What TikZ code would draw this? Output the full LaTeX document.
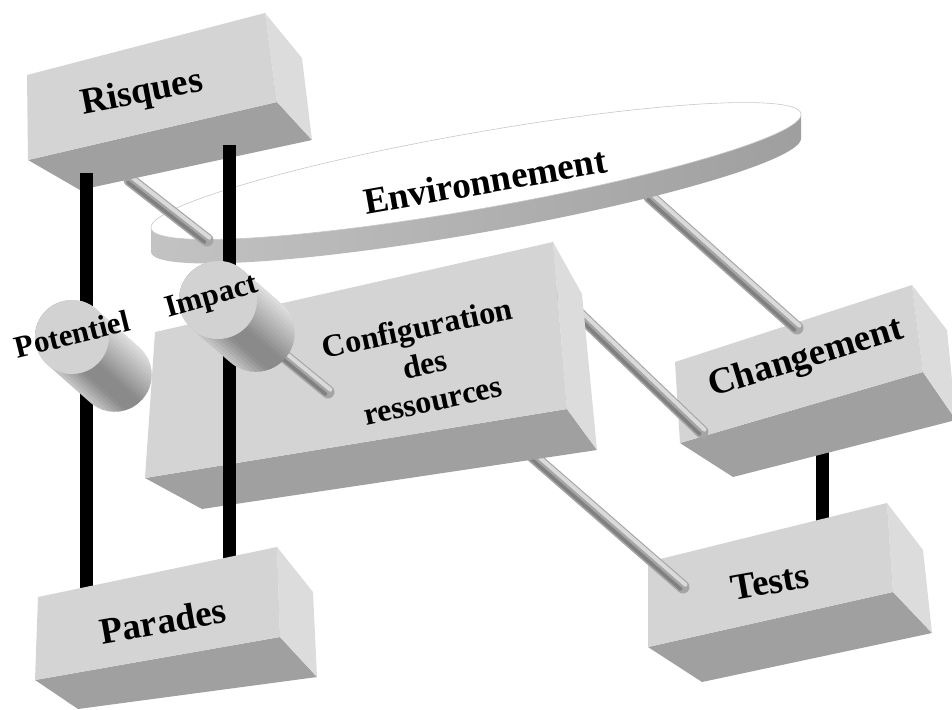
\documentclass[tikz,border=0pt]{standalone}
\usepackage{fontspec}
\setmainfont{Liberation Serif}
\usetikzlibrary{calc}

\definecolor{blockfront}{RGB}{212,212,212}
\definecolor{blockside}{RGB}{220,220,220}
\definecolor{blockbottom}{RGB}{160,160,160}
\definecolor{rodbase}{RGB}{165,165,165}
\definecolor{rodlight}{RGB}{218,218,218}
\definecolor{roddark}{RGB}{128,128,128}
\definecolor{rimlight}{RGB}{195,195,195}
\definecolor{rimdark}{RGB}{148,148,148}
\definecolor{discedge}{RGB}{200,200,200}
\definecolor{cylface}{RGB}{210,210,210}

% block seen from below: front face A B C D, back corners B' C' D'
\newcommand{\drawblock}[7]{%
  \fill[blockbottom] #4 -- #3 -- #6 -- #7 -- cycle;
  \fill[blockside] #2 -- #5 -- #6 -- #3 -- cycle;
  \fill[blockfront] #1 -- #2 -- #3 -- #4 -- cycle;}

% cylinder lying along its axis: front centre #1, axis angle #2,
% length #3, radius #4; the body is shaded in bands across the axis
\newcommand{\drawcylinder}[4]{%
  \begin{scope}[shift={#1}, rotate=#2]
    \begin{scope}
      \clip (0,-#4) -- (#3,-#4) arc[start angle=-90, end angle=90, radius=#4]
        -- (0,#4) arc[start angle=90, end angle=270, radius=#4] -- cycle;
      \foreach \i in {0,...,23} {
        \pgfmathsetmacro{\t}{(\i+0.5)/24}
        \pgfmathsetmacro{\g}{\t<0.55 ? 0.88-0.34*\t/0.55 : (\t<0.75 ? 0.54 : 0.54+0.24*(\t-0.75)/0.25)}
        \definecolor{cylband}{gray}{\g}
        \fill[cylband] (-#4-2, -#4+\i*#4/12) rectangle (#3+#4+2, -#4+\i*#4/12+#4/12+0.6);
      }
    \end{scope}
    \fill[cylface] (0,0) circle (#4);
  \end{scope}}

\begin{document}
\begin{tikzpicture}[x=1pt, y=-1pt,
  bigtext/.style={font=\bfseries\fontsize{37}{40}\selectfont, inner sep=0pt},
  smalltext/.style={font=\bfseries\fontsize{31}{37}\selectfont, inner sep=0pt},
  blackbar/.style={line width=13pt, draw=black},
  rod/.style={line width=13pt, draw=rodbase, line cap=round,
    postaction={draw=roddark, line width=3.5pt, line cap=round,
      transform canvas={shift={(-2.2,2.2)}}},
    postaction={draw=rodlight, line width=4pt, line cap=round,
      transform canvas={shift={(2.4,-2.4)}}}},
]
\useasboundingbox (0,0) rectangle (952,709);
\clip (0,0) rectangle (952,709);

% end points of bars and rods
\coordinate (bar1top) at (86,173);
\coordinate (bar1bot) at (86,592);
\coordinate (bar2top) at (229,145);
\coordinate (bar2bot) at (229,560);
\coordinate (bar3top) at (822,440);
\coordinate (bar3bot) at (822,525);
\coordinate (rodRa) at (130,180);
\coordinate (rodRb) at (207,240);
\coordinate (rodEa) at (650,197);
\coordinate (rodEb) at (797,328);
\coordinate (rodCa) at (560,296);
\coordinate (rodCb) at (702,432);
\coordinate (rodTa) at (520,445);
\coordinate (rodTb) at (683,587);
\coordinate (rodIa) at (256,333);
\coordinate (rodIb) at (328,392);

% link Changement -- Tests
\draw[blackbar] (bar3top) -- (bar3bot);

% Changement
\drawblock{(675,362)}{(912,285)}{(923,372)}{(680,443)}{(947,330)}{(956,420)}{(733,477)}
\node[bigtext, rotate=17] (changement) at (806,359) {Changement};

% Tests
\drawblock{(648,562)}{(887,503)}{(893,592)}{(648,647)}{(923,550)}{(932,633)}{(702,682)}
\node[bigtext, rotate=10] (tests) at (770,582) {Tests};

% rods behind the disc and the configuration block
\draw[rod] (rodEa) -- (rodEb);
\draw[rod] (rodCa) -- (rodCb);
\draw[rod] (rodTa) -- (rodTb);

% Environnement disc: rim then top
\shade[left color=rimlight, middle color=rimdark, right color=rimdark!90,
       rotate around={10:(476,195)}] (476,195) ellipse (330 and 38);
\shade[left color=rimlight, middle color=rimdark, right color=rimdark!90]
  (151,227.5) -- (801,114.5) -- (801,138.5) -- (151,251.5) -- cycle;
\fill[white, draw=discedge, line width=0.6pt, rotate around={10:(476,171)}]
  (476,171) ellipse (330 and 38);
\node[bigtext, rotate=10] (environnement) at (485,181) {Environnement};

% rod Risques -- disc
\draw[rod] (rodRa) -- (rodRb);

% Risques
\drawblock{(27,75)}{(265,13)}{(277,102)}{(28,160)}{(302,58)}{(312,140)}{(80,190)}
\node[bigtext, rotate=11] (risques) at (142,94) {Risques};

% Configuration des ressources
\drawblock{(155,332)}{(553,242)}{(567,409)}{(145,478)}{(582,294)}{(597,450)}{(202,509)}
\node[rotate=12, align=center, inner sep=0pt, font=\bfseries\fontsize{32}{37}\selectfont]
  (config) at (425,364) {Configuration\\des\\ressources};

% vertical links Risques -- Parades
\draw[blackbar] (bar1top) -- (bar1bot);
\draw[blackbar] (bar2top) -- (bar2bot);

% Parades
\drawblock{(38,597)}{(277,547)}{(280,637)}{(35,680)}{(313,592)}{(317,677)}{(78,709)}
\node[bigtext, rotate=10] (parades) at (163,621) {Parades};

% Impact rod and the two cylinders
\draw[rod] (rodIa) -- (rodIb);
\drawcylinder{(72,337)}{-41.5}{57}{37}
\node[smalltext, rotate=14] (potentiel) at (72,334) {Potentiel};
\drawcylinder{(218,300)}{-41}{50}{39}
\node[smalltext, rotate=16] (impact) at (212,298) {Impact};
\end{tikzpicture}
\end{document}
